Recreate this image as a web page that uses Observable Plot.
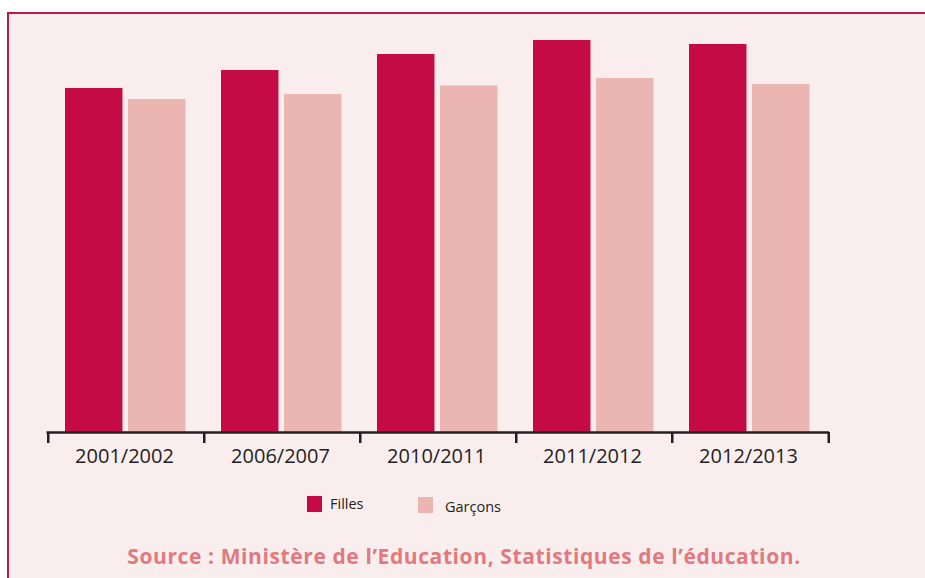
<!DOCTYPE html>
<html>
<head>
<meta charset="utf-8">
<script src="https://cdn.jsdelivr.net/npm/d3@7"></script>
<script src="https://cdn.jsdelivr.net/npm/@observablehq/plot@0.6"></script>
<style>
  html, body { margin: 0; padding: 0; background: #ffffff; width: 925px; height: 578px; overflow: hidden; }
  #panel {
    position: absolute; left: 7px; top: 12px; width: 918px; height: 566px;
    box-sizing: border-box; background: #f9eeed;
    border-left: 2.5px solid #c8154a; border-top: 2.5px solid #c8154a;
  }
  #chart { position: absolute; left: 0; top: 0; }
  .legend { position: absolute; font-family: "Open Sans", sans-serif; font-size: 14.5px; color: #231f20; }
  .sw { position: absolute; width: 15px; height: 16px; }
  #source {
    position: absolute; left: 0; width: 910px; top: 528px; text-align: center;
    font-family: "Open Sans", sans-serif; font-weight: 700; font-size: 21px; letter-spacing: 0.6px; color: #e07a80;
  }
</style>
</head>
<body>
<div id="panel">
  <div id="chart"></div>
  <div class="sw" style="left:298px; top:482px; background:#c50b45;"></div>
  <div class="legend" style="left:321px; top:480px;">Filles</div>
  <div class="sw" style="left:409px; top:483px; background:#ebb5b2;"></div>
  <div class="legend" style="left:436px; top:483px;">Garçons</div>
  <div id="source">Source : Ministère de l’Education, Statistiques de l’éducation.</div>
</div>
<script>
const years = ["2001/2002", "2006/2007", "2010/2011", "2011/2012", "2012/2013"];
const filles = [344, 362, 378, 392, 388];
const garcons = [333, 338, 346.5, 354, 348];

const data = years.map((year, i) => ({year, Filles: filles[i], Garcons: garcons[i]}));

const W = 916, marginLeft = 37.5, marginRight = 96;
const band = (W - marginLeft - marginRight) / years.length;

const chart = Plot.plot({
  width: W,
  height: 470,
  marginLeft,
  marginRight,
  marginTop: 18,
  marginBottom: 52,
  style: { background: "transparent", fontFamily: "Open Sans, sans-serif" },
  x: { domain: years, padding: 0, label: null },
  y: { domain: [0, 400], axis: null },
  marks: [
    Plot.barY(data, { x: "year", y: "Filles", fill: "#c50b45", insetLeft: 17, insetRight: band - 75 }),
    Plot.barY(data, { x: "year", y: "Garcons", fill: "#ebb5b2", insetLeft: 80, insetRight: band - 138 }),
    Plot.ruleY([0], { stroke: "#231f20", strokeWidth: 2.5 }),
    Plot.axisX({ tickSize: 0, tickPadding: 16, fontSize: 20, dx: -2, fill: "#231f20", label: null }),
    Plot.axisX({ tickSize: 11, tickFormat: () => "", dx: -band / 2, stroke: "#231f20", strokeWidth: 2.5, strokeOpacity: 1, label: null }),
    Plot.axisX([years[years.length - 1]], { tickSize: 11, tickFormat: () => "", dx: band / 2, stroke: "#231f20", strokeWidth: 2.5, strokeOpacity: 1, label: null })
  ]
});
document.getElementById("chart").appendChild(chart);
</script>
</body>
</html>
